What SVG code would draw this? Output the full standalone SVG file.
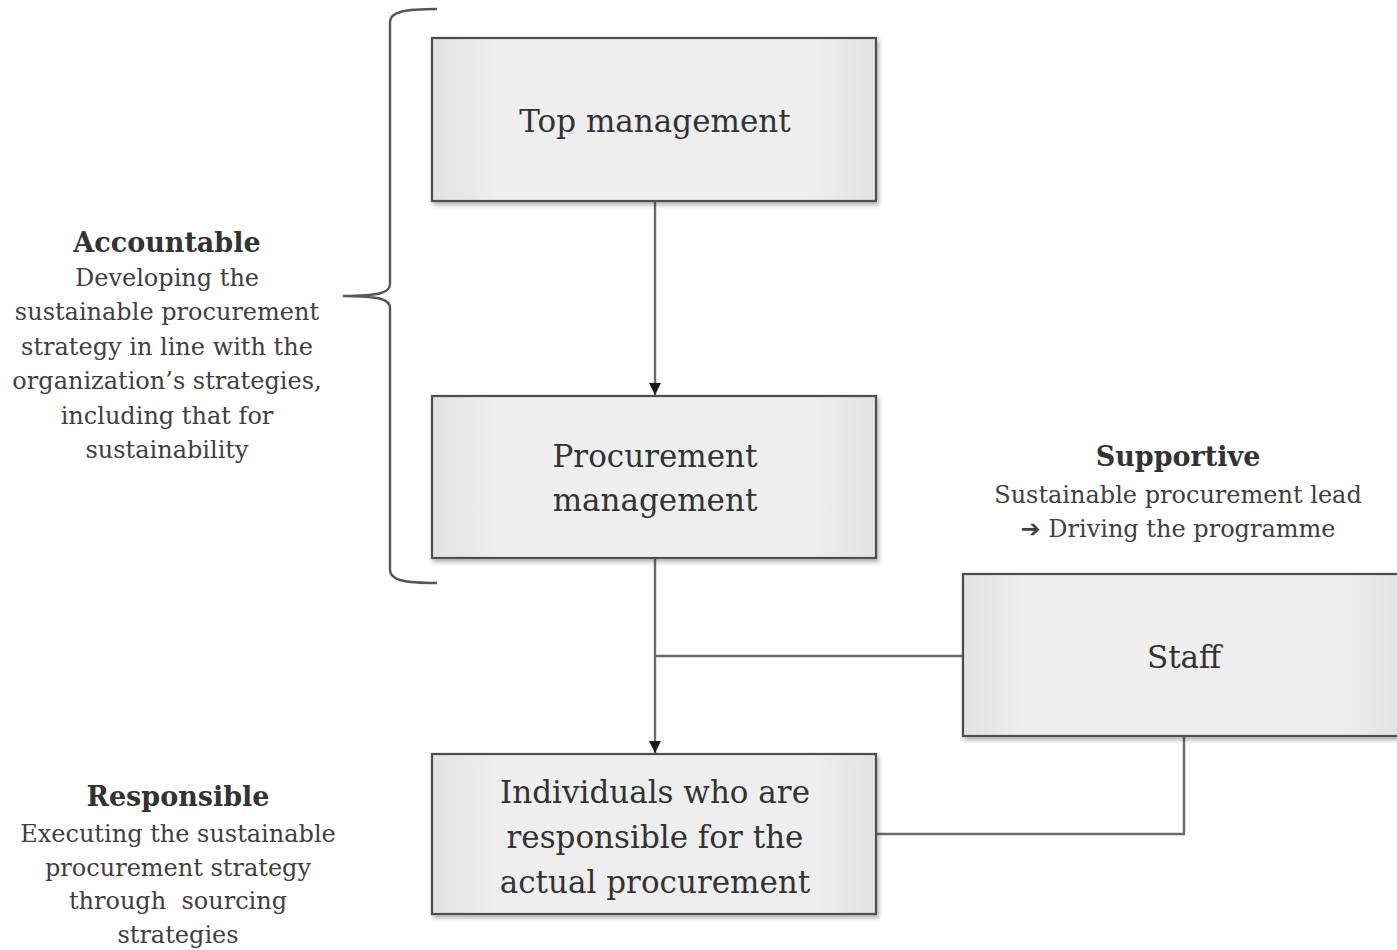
<svg xmlns="http://www.w3.org/2000/svg" width="1397" height="950" viewBox="0 0 1397 950">
  <style>
    .box { fill: url(#boxGrad); stroke: #4d4d4d; stroke-width: 2.2; filter: url(#shadow); }
    .boxText { font-family: "DejaVu Serif", "Liberation Serif", serif; font-size: 31px; fill: #333; text-anchor: middle; }
    .head { font-family: "DejaVu Serif", "Liberation Serif", serif; font-size: 27px; font-weight: bold; fill: #333; text-anchor: middle; }
    .body { font-family: "DejaVu Serif", "Liberation Serif", serif; font-size: 24px; fill: #404040; text-anchor: middle; }
    .conn { fill: none; stroke: #6b6b6b; stroke-width: 2.4; }
    .brace { fill: none; stroke: #555; stroke-width: 2.4; }
  </style>
  <defs>
    <linearGradient id="boxGrad" x1="0" y1="0" x2="1" y2="0">
      <stop offset="0" stop-color="#e2e2e2"/>
      <stop offset="0.15" stop-color="#eeeeee"/>
      <stop offset="0.85" stop-color="#eeeeee"/>
      <stop offset="1" stop-color="#e2e2e2"/>
    </linearGradient>
    <filter id="shadow" x="-5%" y="-5%" width="115%" height="120%">
      <feDropShadow dx="2" dy="3" stdDeviation="2" flood-color="#000" flood-opacity="0.3"/>
    </filter>
    <marker id="arrow" viewBox="0 0 10 10" refX="10" refY="5" markerWidth="12" markerHeight="12" markerUnits="userSpaceOnUse" orient="auto">
      <path d="M0,0 L10,5 L0,10 Z" fill="#1a1a1a"/>
    </marker>
  </defs>

  <rect width="1397" height="950" fill="#ffffff"/>

  <g id="connectors">
    <line class="conn" x1="655" y1="202" x2="655" y2="395" marker-end="url(#arrow)"/>
    <line class="conn" x1="655" y1="558" x2="655" y2="753" marker-end="url(#arrow)"/>
    <line class="conn" x1="655" y1="656" x2="963" y2="656"/>
    <polyline class="conn" points="1184,736 1184,834 876,834"/>
  </g>

  <g id="brace">
    <path class="brace" d="M437,9 C404,9 390,12 390,22 L390,284 C390,292 382,296 343,296 C382,296 390,300 390,308 L390,570 C390,580 404,583 437,583"/>
  </g>

  <g id="node-top">
    <rect class="box" x="432" y="38" width="444" height="163"/>
    <text class="boxText" x="655" y="132">Top management</text>
  </g>

  <g id="node-procurement">
    <rect class="box" x="432" y="396" width="444" height="162"/>
    <text class="boxText" x="655" y="467">Procurement</text>
    <text class="boxText" x="655" y="511">management</text>
  </g>

  <g id="node-staff">
    <rect class="box" x="963" y="574" width="440" height="162"/>
    <text class="boxText" x="1184" y="668">Staff</text>
  </g>

  <g id="node-individuals">
    <rect class="box" x="432" y="754" width="444" height="160"/>
    <text class="boxText" x="655" y="803">Individuals who are</text>
    <text class="boxText" x="655" y="848">responsible for the</text>
    <text class="boxText" x="655" y="893">actual procurement</text>
  </g>

  <g id="label-accountable">
    <text class="head" x="167" y="252">Accountable</text>
    <text class="body" x="167" y="286">Developing the</text>
    <text class="body" x="167" y="320">sustainable procurement</text>
    <text class="body" x="167" y="355">strategy in line with the</text>
    <text class="body" x="167" y="389">organization’s strategies,</text>
    <text class="body" x="167" y="424">including that for</text>
    <text class="body" x="167" y="458">sustainability</text>
  </g>

  <g id="label-supportive">
    <text class="head" x="1178" y="466">Supportive</text>
    <text class="body" x="1178" y="503">Sustainable procurement lead</text>
    <text class="body" x="1178" y="537"><tspan font-family="DejaVu Sans, sans-serif" font-weight="bold">➔</tspan> Driving the programme</text>
  </g>

  <g id="label-responsible">
    <text class="head" x="178" y="806">Responsible</text>
    <text class="body" x="178" y="842">Executing the sustainable</text>
    <text class="body" x="178" y="876">procurement strategy</text>
    <text class="body" x="178" y="909" xml:space="preserve">through  sourcing</text>
    <text class="body" x="178" y="943">strategies</text>
  </g>
</svg>
